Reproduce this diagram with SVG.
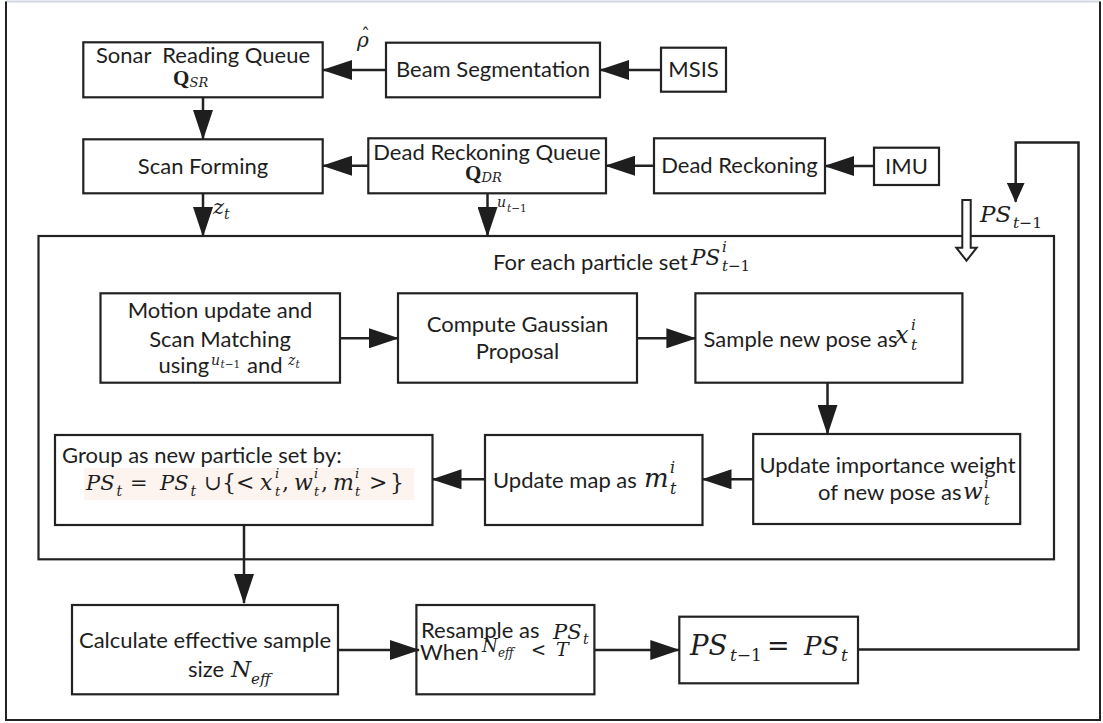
<svg xmlns="http://www.w3.org/2000/svg" width="1103" height="723" viewBox="0 0 1103 723">
<style>
.box{fill:#fff;stroke:#222;stroke-width:2.2}
.lbl{font-family:Lato,"Open Sans",sans-serif;font-size:22px;fill:#1e1e1e}
.c{text-anchor:middle}
.m{font-family:"DejaVu Serif","Liberation Serif",serif;font-style:italic;fill:#1e1e1e}
.r{font-family:"DejaVu Serif","Liberation Serif",serif;fill:#1e1e1e}
.up{font-style:normal}
.edge{fill:none;stroke:#222;stroke-width:2.5}
</style>
<defs>
<marker id="ah" markerUnits="userSpaceOnUse" markerWidth="30" markerHeight="20" refX="29" refY="10" orient="auto">
<path d="M0,0 L30,10 L0,20 Z" fill="#1e1e1e"/>
</marker>
<marker id="ahs" markerUnits="userSpaceOnUse" markerWidth="20" markerHeight="18" refX="19" refY="9" orient="auto">
<path d="M0,0 L20,9 L0,18 Z" fill="#1e1e1e"/>
</marker>
</defs>
<rect width="1103" height="723" fill="#fff"/>
<!-- frame -->
<path d="M6,1.5 H1100" fill="none" stroke="#cfd7e2" stroke-width="2"/>
<path d="M6,1.5 V720 H1100 V1.5" fill="none" stroke="#222" stroke-width="2"/>

<!-- loop container -->
<g id="loop">
<rect class="box" x="38.5" y="236" width="1015.5" height="323.3"/>
<text class="lbl" x="493" y="270">For each particle set</text>
<text class="m" x="691" y="265" font-size="21.5">PS</text>
<text class="m" x="722" y="252" font-size="15">i</text>
<text class="m" x="722" y="271" font-size="15">t<tspan class="up">−1</tspan></text>
</g>

<g id="sonar-queue">
<rect class="box" x="83.3" y="42.3" width="239.4" height="55"/>
<text class="lbl c" x="203" y="63">Sonar&#160; Reading Queue</text>
<text x="173" y="85" font-family="Liberation Serif,serif" font-weight="bold" font-size="21" fill="#1e1e1e">Q</text>
<text class="m" x="189.5" y="87" font-size="13">SR</text>
</g>

<g id="beam-seg">
<rect class="box" x="386" y="42.7" width="214" height="54.6"/>
<text class="lbl c" x="493" y="77">Beam Segmentation</text>
</g>

<g id="msis">
<rect class="box" x="661" y="47.7" width="65" height="44"/>
<text class="lbl c" x="693.5" y="77">MSIS</text>
</g>

<g id="scan-forming">
<rect class="box" x="83.3" y="139.3" width="239.4" height="54"/>
<text class="lbl c" x="203" y="174">Scan Forming</text>
</g>

<g id="dr-queue">
<rect class="box" x="368.3" y="138.3" width="237.7" height="55"/>
<text class="lbl c" x="487" y="160">Dead Reckoning Queue</text>
<text x="465" y="180" font-family="Liberation Serif,serif" font-weight="bold" font-size="21" fill="#1e1e1e">Q</text>
<text class="m" x="481.5" y="182" font-size="13">DR</text>
</g>

<g id="dead-reckoning">
<rect class="box" x="654" y="138.3" width="171" height="55"/>
<text class="lbl c" x="739.5" y="173">Dead Reckoning</text>
</g>

<g id="imu">
<rect class="box" x="874" y="147.7" width="65" height="37.3"/>
<text class="lbl c" x="906.5" y="174">IMU</text>
</g>

<g id="motion-update">
<rect class="box" x="100.5" y="293.3" width="239.5" height="89.4"/>
<text class="lbl c" x="220" y="318">Motion update and</text>
<text class="lbl c" x="220" y="346.5">Scan Matching</text>
<text class="lbl" x="158.5" y="373">using</text>
<text class="m" x="211" y="365" font-size="14">u</text>
<text class="m" x="220.5" y="368" font-size="10.5">t<tspan class="up">−1</tspan></text>
<text class="lbl" x="247" y="373">and</text>
<text class="m" x="288" y="365" font-size="14">z</text>
<text class="m" x="295.5" y="368" font-size="10.5">t</text>
</g>

<g id="gaussian-proposal">
<rect class="box" x="398" y="293.3" width="239" height="89.4"/>
<text class="lbl c" x="517.5" y="331.5">Compute Gaussian</text>
<text class="lbl c" x="517.5" y="359">Proposal</text>
</g>

<g id="sample-pose">
<rect class="box" x="695.4" y="293.3" width="267" height="89.4"/>
<text class="lbl" x="703.6" y="346.5">Sample new pose as</text>
<text class="m" x="895" y="343" font-size="24">x</text>
<text class="m" x="911" y="330" font-size="15">i</text>
<text class="m" x="911" y="350" font-size="15">t</text>
</g>

<g id="importance-weight">
<rect class="box" x="753.2" y="434" width="267" height="90"/>
<text class="lbl c" x="887.5" y="472.5">Update importance weight</text>
<text class="lbl" x="818" y="500">of new pose as</text>
<text class="m" x="963" y="499" font-size="23">w</text>
<text class="m" x="984" y="488" font-size="14">i</text>
<text class="m" x="984" y="505" font-size="14">t</text>
</g>

<g id="update-map">
<rect class="box" x="485" y="435" width="217.5" height="90"/>
<text class="lbl" x="493" y="488">Update map as</text>
<text class="m" x="644" y="487" font-size="26">m</text>
<text class="m" x="670" y="473" font-size="16">i</text>
<text class="m" x="670" y="494" font-size="16">t</text>
</g>

<g id="group-set">
<rect class="box" x="55" y="435" width="377.5" height="90"/>
<text class="lbl" x="62" y="463">Group as new particle set by:</text>
<rect x="84" y="468" width="330" height="32" fill="#fdf4ef"/>
<text class="m" x="86" y="490" font-size="21">PS</text>
<text class="m" x="116.5" y="496" font-size="14">t</text>
<text class="r" x="130" y="490" font-size="21">=</text>
<text class="m" x="160" y="490" font-size="21">PS</text>
<text class="m" x="190.5" y="496" font-size="14">t</text>
<text class="r" x="204" y="490" font-size="21">∪</text>
<text class="r" x="222" y="490" font-size="22">{</text>
<text class="r" x="236" y="490" font-size="22">&lt;</text>
<text class="m" x="260" y="490" font-size="22">x</text>
<text class="m" x="275" y="478" font-size="13">i</text>
<text class="m" x="275" y="496" font-size="13">t</text>
<text class="r" x="282" y="490" font-size="22">,</text>
<text class="m" x="294" y="490" font-size="22">w</text>
<text class="m" x="314" y="478" font-size="13">i</text>
<text class="m" x="314" y="496" font-size="13">t</text>
<text class="r" x="321" y="490" font-size="22">,</text>
<text class="m" x="333" y="490" font-size="22">m</text>
<text class="m" x="355" y="478" font-size="13">i</text>
<text class="m" x="355" y="496" font-size="13">t</text>
<text class="r" x="369" y="490" font-size="22">&gt;</text>
<text class="r" x="390" y="490" font-size="22">}</text>
</g>

<g id="effective-size">
<rect class="box" x="72" y="605" width="266" height="89.3"/>
<text class="lbl c" x="205" y="648">Calculate effective sample</text>
<text class="lbl" x="188" y="677">size</text>
<text class="m" x="231" y="677" font-size="23">N</text>
<text class="m" x="251" y="684" font-size="15">eff</text>
</g>

<g id="resample">
<rect class="box" x="416.4" y="605" width="178" height="89.3"/>
<text class="lbl" x="421" y="638" font-size="20.5">Resample as</text>
<text class="m" x="553" y="639" font-size="21">PS</text>
<text class="m" x="583" y="644" font-size="14">t</text>
<text class="lbl" x="420" y="660" font-size="20.5">When</text>
<text class="m" x="482" y="652" font-size="18">N</text>
<text class="m" x="498" y="657" font-size="12">eff</text>
<text class="r" x="531" y="656" font-size="18">&lt;</text>
<text class="m" x="556" y="656" font-size="19">T</text>
</g>

<g id="ps-update">
<rect class="box" x="679.3" y="616.7" width="178.7" height="66.6"/>
<text class="m" x="690" y="655" font-size="27.5">PS</text>
<text class="m" x="730" y="661" font-size="17">t<tspan class="up">−1</tspan></text>
<text class="r" x="767" y="655" font-size="27">=</text>
<text class="m" x="804" y="655" font-size="26">PS</text>
<text class="m" x="841" y="661" font-size="17">t</text>
</g>

<!-- connectors -->
<g id="connectors">
<path class="edge" d="M386,70 H323" marker-end="url(#ah)"/>
<path class="edge" d="M661,70 H600" marker-end="url(#ah)"/>
<path class="edge" d="M203,97.3 V139" marker-end="url(#ah)"/>
<path class="edge" d="M368.3,165.7 H323" marker-end="url(#ah)"/>
<path class="edge" d="M654,165.7 H606" marker-end="url(#ah)"/>
<path class="edge" d="M874,166 H825" marker-end="url(#ah)"/>
<path class="edge" d="M203,193.3 V236" marker-end="url(#ah)"/>
<path class="edge" d="M487.5,193.3 V236" marker-end="url(#ah)"/>
<path class="edge" d="M340,338.3 H398" marker-end="url(#ah)"/>
<path class="edge" d="M637,338.3 H695.4" marker-end="url(#ah)"/>
<path class="edge" d="M827.5,382.7 V434" marker-end="url(#ah)"/>
<path class="edge" d="M753.2,479.3 H702.5" marker-end="url(#ah)"/>
<path class="edge" d="M485,479.3 H432.5" marker-end="url(#ah)"/>
<path class="edge" d="M244,525 V603" marker-end="url(#ah)"/>
<path class="edge" d="M338,650 H419" marker-end="url(#ah)"/>
<path class="edge" d="M594.4,650 H679.3" marker-end="url(#ah)"/>
<path class="edge" d="M858,649.5 H1078.5 V142.5 H1015.7 V201.7" marker-end="url(#ahs)"/>
<path d="M962.3,200 H970.7 V247.7 H976.7 L966.5,260.7 L956.3,247.7 H962.3 Z" fill="#fff" stroke="#222" stroke-width="2"/>
<!-- edge labels -->
<text class="m" x="213" y="214" font-size="21">z</text>
<text class="m" x="224" y="219" font-size="14">t</text>
<text class="m" x="497" y="207" font-size="14">u</text>
<text class="m" x="507" y="212" font-size="10.5">t<tspan class="up">−1</tspan></text>
<text class="m" x="357" y="47" font-size="20">ρ</text>
<text class="r" x="361" y="42" font-size="18">ˆ</text>
<text class="m" x="980" y="221.7" font-size="23">PS</text>
<text class="m" x="1013" y="228" font-size="15.5">t<tspan class="up">−1</tspan></text>
</g>
</svg>
